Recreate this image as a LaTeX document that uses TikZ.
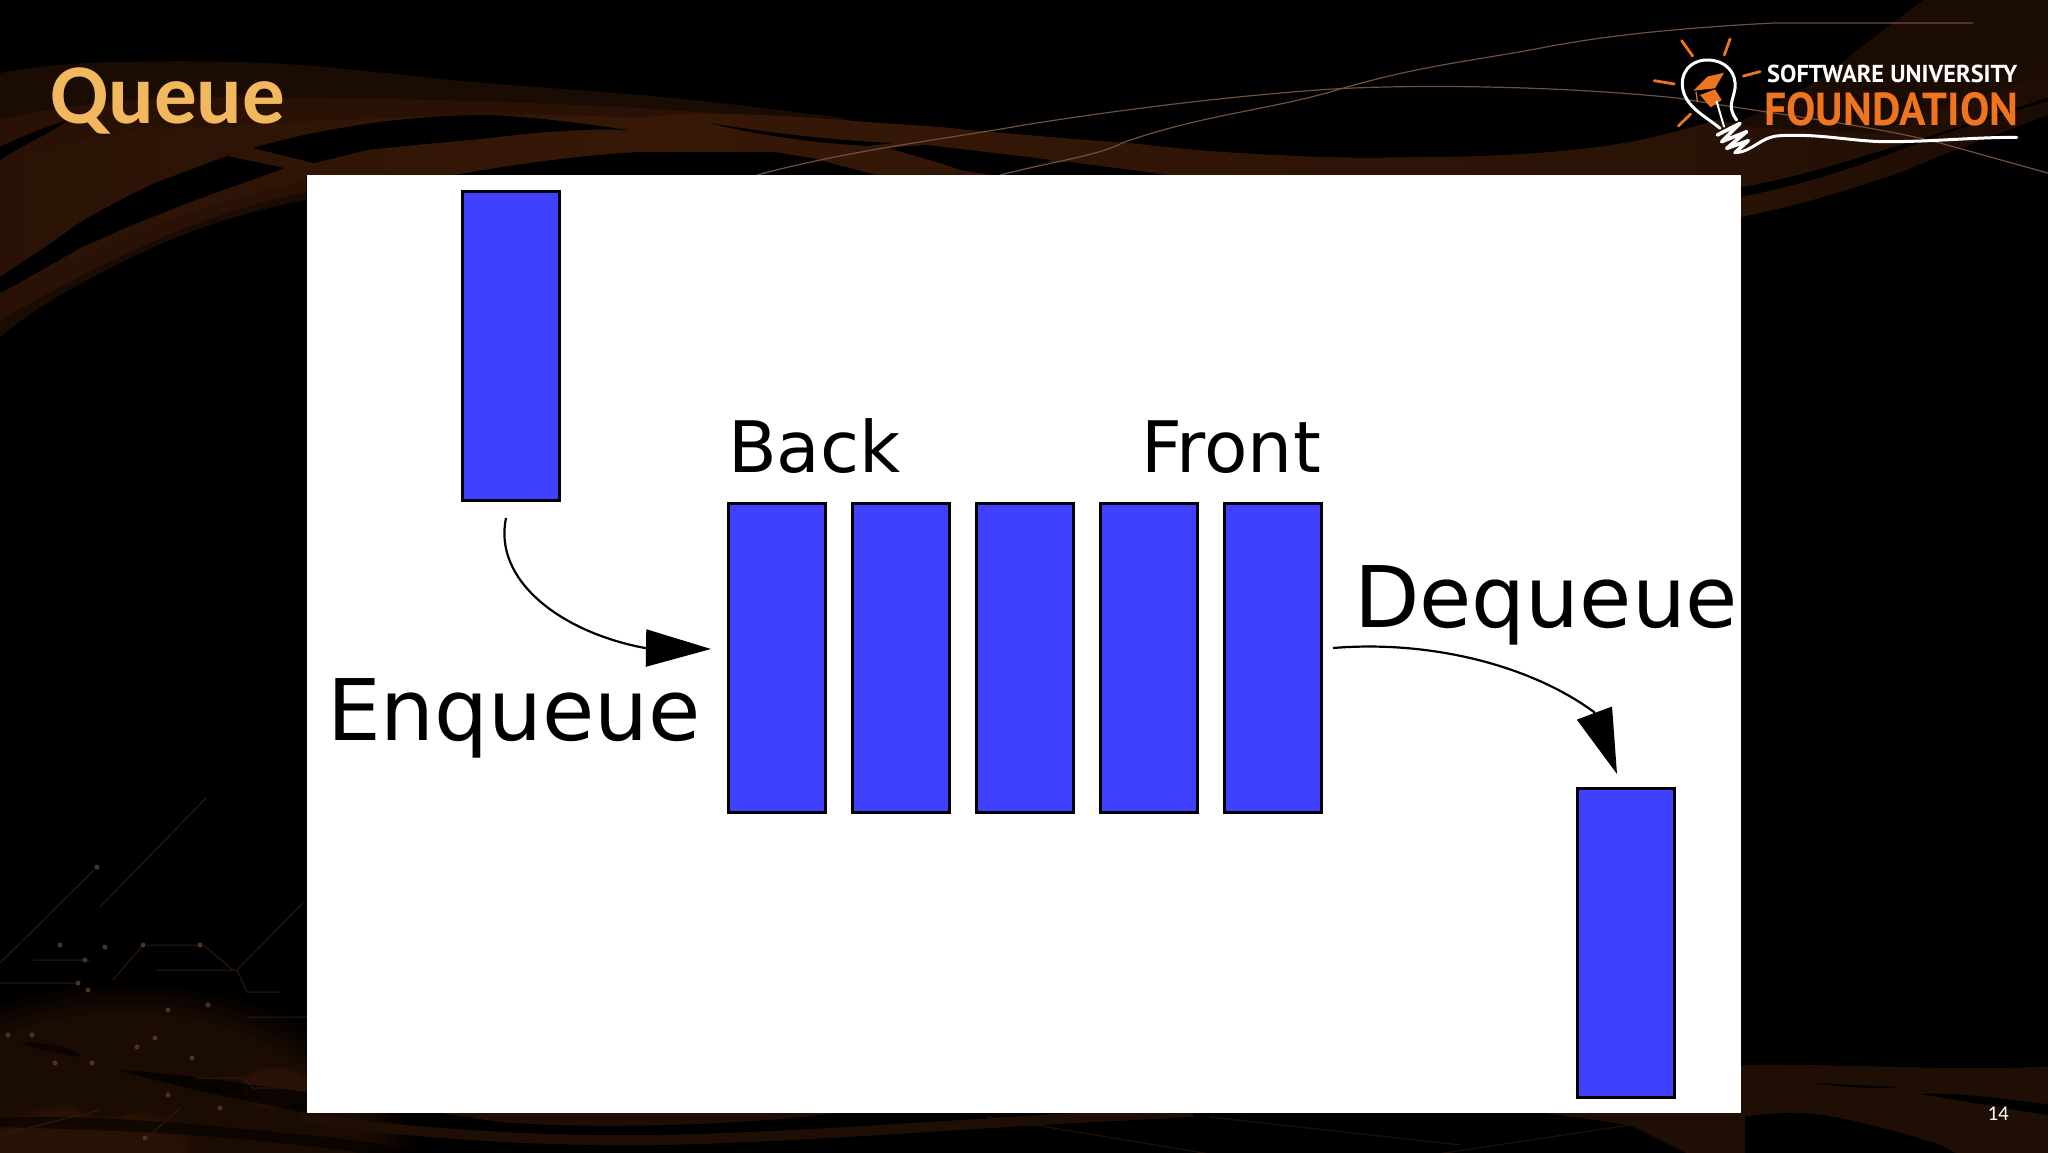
\documentclass[tikz,border=0pt]{standalone}
\usepackage{fontspec}
\setmainfont{DejaVu Sans}
\newfontfamily\carlito{Carlito}
\newfontfamily\ptsans{PT Sans}
\usetikzlibrary{arrows.meta,fadings}
\definecolor{barblue}{HTML}{4040FF}
\definecolor{swoosh}{HTML}{371807}
\definecolor{swooshmid}{HTML}{291205}
\definecolor{swooshdim}{HTML}{1A0B03}
\definecolor{swooshhot}{HTML}{4C2106}
\definecolor{swooshlow}{HTML}{1E0E04}
\definecolor{titlegold}{HTML}{F2B85F}
\definecolor{logoorange}{HTML}{EE7420}
\definecolor{hairline}{HTML}{6E5040}
\definecolor{circuit}{HTML}{2E1B10}
\definecolor{sparkc}{HTML}{4A3326}
\tikzset{
  bar/.style={draw=black,fill=barblue,line width=3pt,minimum width=97pt,minimum height=309pt,inner sep=0pt},
  bigword/.style={anchor=base west,inner sep=0pt,text=black,font=\fontsize{85}{90}\selectfont},
  smallword/.style={anchor=base west,inner sep=0pt,text=black,font=\fontsize{71}{80}\selectfont},
  flow/.style={draw=black,line width=2.2pt,-{Triangle[length=65pt,width=37pt]}},
  ray/.style={draw=logoorange,line width=2.8pt,line cap=round},
  wire/.style={draw=white,line width=3pt,line cap=round,line join=round},
  hair/.style={draw=hairline,line width=1.2pt},
  trace/.style={draw=circuit,line width=1pt},
  glow/.style={path fading=circle with fuzzy edge 20 percent}
}
\begin{document}
\begin{tikzpicture}[x=1pt,y=-1pt]
\useasboundingbox (0,0) rectangle (2048,1152);
\fill[black] (-5,-5) rectangle (2060,1165);
% faint upper right band
\fill[swooshdim] (1700,143) .. controls (1760,110) and (1820,85) .. (1857,50) -- (1923,0) -- (2055,0) -- (2055,73) -- (1873,133) -- cycle;
% left swoosh, three tones
\fill[swooshdim] (0,73) .. controls (40,66) and (80,62) .. (122,62) .. controls (200,60) and (270,62) .. (327,67)
  .. controls (370,72) and (410,75) .. (449,80) .. controls (520,86) and (580,90) .. (640,95) .. controls (700,100) and (780,110) .. (844,118)
  -- (844,176) -- (306,176) -- (306,200)
  .. controls (230,215) and (170,235) .. (82,283) .. controls (50,300) and (20,320) .. (0,337) -- cycle;
\fill[swooshmid] (0,120) .. controls (80,100) and (180,95) .. (280,98) .. controls (400,98) and (520,102) .. (640,108) .. controls (700,112) and (770,117) .. (844,122)
  -- (844,176) -- (306,176) -- (306,192)
  .. controls (220,210) and (140,240) .. (0,320) -- cycle;
\shade[left color=swooshmid,right color=swoosh] (0,163) .. controls (40,150) and (80,140) .. (122,133) .. controls (200,125) and (300,122) .. (408,117)
  .. controls (500,113) and (570,115) .. (640,118) -- (640,176) -- (306,176) -- (306,180) .. controls (200,205) and (100,240) .. (0,300) -- cycle;
% central band
\shade[left color=swoosh,middle color=swooshhot,right color=swooshmid] (640,118) .. controls (700,110) and (770,115) .. (844,120)
  .. controls (900,125) and (930,125) .. (967,130)
  .. controls (1030,135) and (1080,140) .. (1130,143) .. controls (1190,150) and (1230,153) .. (1280,155)
  .. controls (1330,158) and (1370,158) .. (1416,157) .. controls (1500,157) and (1580,152) .. (1640,140)
  .. controls (1670,133) and (1700,125) .. (1717,120) -- (1742,125) -- (1742,180) -- (640,180) -- cycle;
% right band, two strips
\shade[left color=swooshmid,right color=swooshdim!70!swooshmid] (1700,125) -- (1873,133) -- (2055,71) -- (2055,95) .. controls (1980,120) and (1920,140) .. (1873,153)
  .. controls (1830,167) and (1790,178) .. (1743,187) -- (1700,180) -- cycle;
\shade[left color=swooshmid,right color=swooshdim] (1741,197) .. controls (1800,185) and (1850,170) .. (1900,150) .. controls (1960,128) and (2000,115) .. (2055,99)
  -- (2055,112) .. controls (2000,135) and (1950,150) .. (1907,170) .. controls (1850,190) and (1800,205) .. (1741,217) -- cycle;
% gaps
\fill[black] (0,147) .. controls (25,135) and (45,127) .. (69,120) -- (53,130) .. controls (35,140) and (15,150) .. (0,160) -- cycle;
\fill[black] (227,156) -- (284,168) .. controls (240,185) and (205,195) .. (163,213) .. controls (130,225) and (110,235) .. (82,247)
  .. controls (50,265) and (25,280) .. (0,293) -- (0,277) .. controls (25,260) and (50,245) .. (73,227) .. controls (100,210) and (130,195) .. (155,183) -- cycle;
\fill[black] (253,148) .. controls (280,140) and (315,132) .. (347,127) .. controls (400,118) and (450,115) .. (490,115) .. controls (550,118) and (590,125) .. (629,130)
  .. controls (580,128) and (530,133) .. (490,138) .. controls (450,142) and (410,145) .. (367,150) -- (314,163) -- cycle;
\fill[black] (449,176) .. controls (510,165) and (580,155) .. (640,152) -- (775,152) -- (811,158) -- (880,176) -- cycle;
\fill[black] (709,123) .. controls (770,133) and (830,140) .. (893,143) -- (868,146) .. controls (800,142) and (750,133) .. (709,123) -- cycle;
\fill[black] (889,148) -- (926,145) .. controls (970,150) and (1010,155) .. (1052,160) -- (999,176) -- (960,170) .. controls (940,162) and (910,155) .. (889,148) -- cycle;
\fill[black] (1048,162) -- (1070,162) .. controls (1110,168) and (1140,170) .. (1170,176) -- (1000,176) -- cycle;
% top hair lines
\draw[hair] (757,175) .. controls (850,150) and (940,140) .. (1024,125) .. controls (1150,105) and (1250,95) .. (1318,90)
  .. controls (1400,84) and (1550,85) .. (1677,98) .. controls (1780,115) and (1870,125) .. (1940,143) -- (2055,175);
\draw[hair] (1000,175) .. controls (1060,160) and (1100,155) .. (1122,143) .. controls (1200,115) and (1270,110) .. (1337,90)
  .. controls (1420,65) and (1480,60) .. (1546,47) .. controls (1620,33) and (1700,27) .. (1773,23) -- (1973,23);
% bottom right swoosh
\fill[swooshlow] (1735,1065) .. controls (1850,1063) and (1950,1072) .. (2055,1066) -- (2055,1160) -- (1735,1160) -- cycle;
\fill[black] (1815,1083) .. controls (1850,1085) and (1880,1086) .. (1900,1087) .. controls (1880,1089) and (1850,1088) .. (1815,1083) -- cycle;
\fill[black] (1920,1094) .. controls (1960,1092) and (2010,1100) .. (2055,1105) -- (2055,1116) .. controls (2000,1108) and (1960,1100) .. (1920,1094) -- cycle;
\fill[black] (1735,1118) .. controls (1800,1108) and (1830,1115) .. (1870,1125) .. controls (1910,1135) and (1950,1145) .. (1965,1160) -- (1735,1160) -- cycle;
% bottom strip
\fill[swooshlow] (1523,1110) -- (1745,1110) -- (1745,1160) -- (1700,1160) -- (1630,1125) -- cycle;
\fill[swooshlow] (420,1110) -- (860,1110) .. controls (760,1125) and (600,1130) .. (500,1122) -- cycle;
% bottom-left circuit glow
\fill[swooshdim,glow] (-150,980) rectangle (400,1320);
\fill[swooshdim,glow] (-120,1040) rectangle (420,1260);
\fill[swooshmid,glow] (-30,1100) rectangle (200,1200);
\fill[swooshmid,glow] (235,1065) rectangle (315,1110);
\fill[swooshdim,glow] (60,1060) rectangle (150,1120);
\fill[black,opacity=.55] (20,1043) .. controls (60,1042) and (75,1050) .. (83,1057) .. controls (60,1055) and (40,1050) .. (20,1043) -- cycle;
\fill[black,opacity=.7] (117,1070) .. controls (170,1072) and (250,1085) .. (307,1092) -- (307,1113) .. controls (240,1100) and (170,1085) .. (117,1070) -- cycle;
\fill[black,opacity=.55] (0,1118) .. controls (90,1113) and (200,1125) .. (307,1135) .. controls (360,1140) and (420,1150) .. (470,1160) -- (400,1160) .. controls (340,1148) and (300,1145) .. (270,1142) .. controls (180,1132) and (90,1130) .. (0,1127) -- cycle;
\draw[swooshlow,line width=10pt] (300,1117) .. controls (380,1130) and (520,1142) .. (657,1140) .. controls (780,1138) and (950,1125) .. (1077,1118) -- (1193,1112);
\draw[swooshlow,line width=1.4pt] (987,1117) -- (1246,1160) (1210,1117) -- (1460,1145) (1398,1160) -- (1630,1125);
\draw[trace] (0,963) -- (97,867) (100,907) -- (207,797) (33,960) -- (90,960) (0,983) -- (78,983)
  (113,980) -- (143,945) -- (203,945) -- (233,970) (157,970) -- (237,970) -- (303,903)
  (237,970) -- (247,992) -- (280,992) (247,1017) -- (307,1017)
  (195,1078) -- (243,1078) -- (253,1088) -- (275,1088) (180,1108) -- (147,1138) (0,1135) -- (100,1110);
\foreach \sx/\sy in {97/867,105/947,60/945,85/960,78/983,208/1005,88/990,143/945,200/945,168/1010,155/1038,137/1047,55/1063,92/1063,8/1035,32/1035,168/1095,220/1108,145/1138,192/1058}
  \fill[sparkc] (\sx,\sy) circle [radius=2.5pt];
% slide image
\fill[white] (307,175) rectangle (1741,1113);
\node[bar] (incoming) at (511,345.5) {};
\node[bar] (q1) at (776.5,657.5) {};
\node[bar] (q2) at (900.5,657.5) {};
\node[bar] (q3) at (1024.5,657.5) {};
\node[bar] (q4) at (1148.5,657.5) {};
\node[bar] (q5) at (1272.5,657.5) {};
\node[bar] (outgoing) at (1626,942.5) {};
\node[smallword] (back) at (728,472) {Back};
\node[smallword] (front) at (1141,472) {Front};
\node[bigword] (enq) at (327,740) {Enqueue};
\node[bigword] (deq) at (1354,627) {Dequeue};
\coordinate (enqStart) at (506,518);
\coordinate (enqBase) at (645,648);
\coordinate (enqTip) at (711,649);
\coordinate (deqStart) at (1333,648);
\coordinate (deqBase) at (1594,712);
\coordinate (deqTip) at (1617,774);
\draw[flow] (enqStart) .. controls (493,580) and (560,632) .. (enqBase) -- (enqTip);
\draw[flow] (deqStart) .. controls (1430,640) and (1530,665) .. (deqBase) -- (deqTip);
% title and page number
\node[anchor=base west,inner sep=0pt,text=titlegold,font=\carlito\bfseries\fontsize{85}{90}\selectfont] (title) at (50,123) {Queue};
\node[anchor=base east,inner sep=0pt,text=white,font=\carlito\fontsize{21}{24}\selectfont] (page) at (2009,1120) {14};
% logo
\begin{scope}[shift={(1620,20)},xscale=1/3,yscale=1/3]
\draw[ray] (185,62) -- (218,108);
\draw[ray] (330,57) -- (313,105);
\draw[ray] (370,168) -- (420,155);
\draw[ray] (103,182) -- (163,192);
\draw[ray] (212,282) -- (175,318);
\fill[logoorange] (220,212) -- (262,170) -- (312,158) -- (285,205) -- cycle;
\fill[logoorange] (240,225) -- (285,208) -- (305,240) -- (272,262) -- cycle;
\draw[draw=logoorange,line width=1.2pt] (228,215) -- (232,245);
\draw[wire] (300,325) .. controls (260,290) and (190,260) .. (187,195) .. controls (185,140) and (230,118) .. (265,120)
  .. controls (320,122) and (350,160) .. (345,205) .. controls (340,240) and (320,260) .. (350,300);
\draw[wire,line width=2pt] (290,245) -- (312,320);
\draw[wire,line width=3.6pt] (292,345) -- (360,310) -- (305,365) -- (380,335) -- (320,385) -- (385,362) -- (345,398);
\draw[wire] (345,398) .. controls (400,395) and (420,350) .. (480,347) .. controls (600,340) and (700,365) .. (800,365) .. controls (950,365) and (1050,352) .. (1190,352);
\end{scope}
\node[anchor=base west,inner sep=0pt,text=white,font=\ptsans\bfseries] (sw) at (1767,82) {\resizebox{250pt}{17.5pt}{SOFTWARE UNIVERSITY}};
\node[anchor=base west,inner sep=0pt,text=logoorange,font=\ptsans\bfseries] (fd) at (1764,125) {\resizebox{254pt}{33pt}{FOUNDATION}};
\end{tikzpicture}
\end{document}
